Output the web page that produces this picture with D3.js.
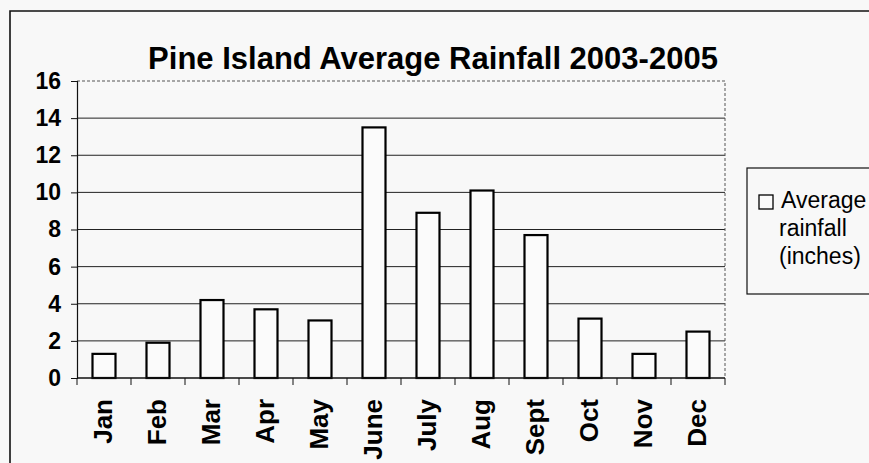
<!DOCTYPE html>
<html>
<head>
<meta charset="utf-8">
<script src="https://cdn.jsdelivr.net/npm/d3@7"></script>
<style>
  html, body { margin: 0; padding: 0; background: #f8f8f8; }
  svg { display: block; }
  text { font-family: "Liberation Sans", Arial, sans-serif; fill: #000; }
</style>
</head>
<body>
<svg id="chart" width="869" height="463"></svg>
<script>
const months = ["Jan","Feb","Mar","Apr","May","June","July","Aug","Sept","Oct","Nov","Dec"];
const rainfall = [1.3, 1.9, 4.2, 3.7, 3.1, 13.5, 8.9, 10.1, 7.7, 3.2, 1.3, 2.5];
const yTicks = [0, 2, 4, 6, 8, 10, 12, 14, 16];
const titleText = "Pine Island Average Rainfall 2003-2005";
const legendLines = ["Average", "rainfall", "(inches)"];

const svg = d3.select("#chart");
const W = 869, H = 463;
const plot = { left: 77, right: 725, top: 81, bottom: 378 };

svg.append("rect").attr("width", W).attr("height", H).attr("fill", "#f8f8f8");

// outer border (top & left)
svg.append("path")
  .attr("d", `M10,${H} L10,11 L${W},11`)
  .attr("fill", "none").attr("stroke", "#111").attr("stroke-width", 1.6);

const x = d3.scaleBand().domain(months).range([plot.left, plot.right])
  .paddingInner(0.574).paddingOuter(0.287);
const y = d3.scaleLinear().domain([0, 16]).range([plot.bottom, plot.top]);

// gridlines
svg.append("g").selectAll("line").data(yTicks.filter(d => d > 0 && d < 16)).join("line")
  .attr("x1", plot.left).attr("x2", plot.right)
  .attr("y1", d => y(d)).attr("y2", d => y(d))
  .attr("stroke", "#222").attr("stroke-width", 1);

// plot area top & right border (dotted)
svg.append("path")
  .attr("d", `M${plot.left},${y(16)} L${plot.right},${y(16)} L${plot.right},${plot.bottom}`)
  .attr("fill", "none").attr("stroke", "#555").attr("stroke-width", 1)
  .attr("stroke-dasharray", "3,2");

// bars
svg.append("g").selectAll("rect").data(months).join("rect")
  .attr("x", d => x(d))
  .attr("y", (d, i) => y(rainfall[i]))
  .attr("width", x.bandwidth())
  .attr("height", (d, i) => y(0) - y(rainfall[i]))
  .attr("fill", "#fbfbfb").attr("stroke", "#000").attr("stroke-width", 2.2);

// y axis
const yAxis = d3.axisLeft(y).tickValues(yTicks).tickSize(6).tickPadding(10).tickFormat(d3.format("d"));
const gy = svg.append("g").attr("transform", `translate(${plot.left},0)`).call(yAxis);
gy.select(".domain").attr("stroke", "#111").attr("stroke-width", 1.2);
gy.selectAll(".tick line").attr("stroke", "#111");
gy.selectAll("text").attr("font-size", 23).attr("font-weight", "bold")
  .attr("font-family", "Liberation Sans, Arial, sans-serif").attr("fill", "#000");

// x axis line and ticks at band boundaries
const step = x.step();
svg.append("line").attr("x1", plot.left).attr("x2", plot.right)
  .attr("y1", plot.bottom).attr("y2", plot.bottom)
  .attr("stroke", "#111").attr("stroke-width", 1.4);
svg.append("g").selectAll("line").data(d3.range(months.length + 1)).join("line")
  .attr("x1", i => plot.left + i * step).attr("x2", i => plot.left + i * step)
  .attr("y1", plot.bottom).attr("y2", plot.bottom + 7)
  .attr("stroke", "#111").attr("stroke-width", 1);

// x labels rotated
svg.append("g").selectAll("text").data(months).join("text")
  .attr("transform", d => `translate(${x(d) + x.bandwidth() / 2 - 1},399) rotate(-90)`)
  .attr("text-anchor", "end").attr("dy", "0.36em")
  .attr("font-size", 26).attr("font-weight", "bold")
  .text(d => d);

// title
svg.append("text").attr("x", 433).attr("y", 69).attr("text-anchor", "middle")
  .attr("font-size", 31).attr("font-weight", "bold").text(titleText);

// legend
svg.append("rect").attr("x", 747).attr("y", 168).attr("width", 140).attr("height", 126)
  .attr("fill", "none").attr("stroke", "#111").attr("stroke-width", 1.2);
svg.append("rect").attr("x", 759).attr("y", 195).attr("width", 14).attr("height", 14)
  .attr("fill", "#fbfbfb").attr("stroke", "#000").attr("stroke-width", 1.3);
svg.append("g").selectAll("text").data(legendLines).join("text")
  .attr("x", (d, i) => i === 0 ? 781 : 779)
  .attr("y", (d, i) => 208 + i * 28)
  .attr("font-size", 23).text(d => d);
</script>
</body>
</html>
